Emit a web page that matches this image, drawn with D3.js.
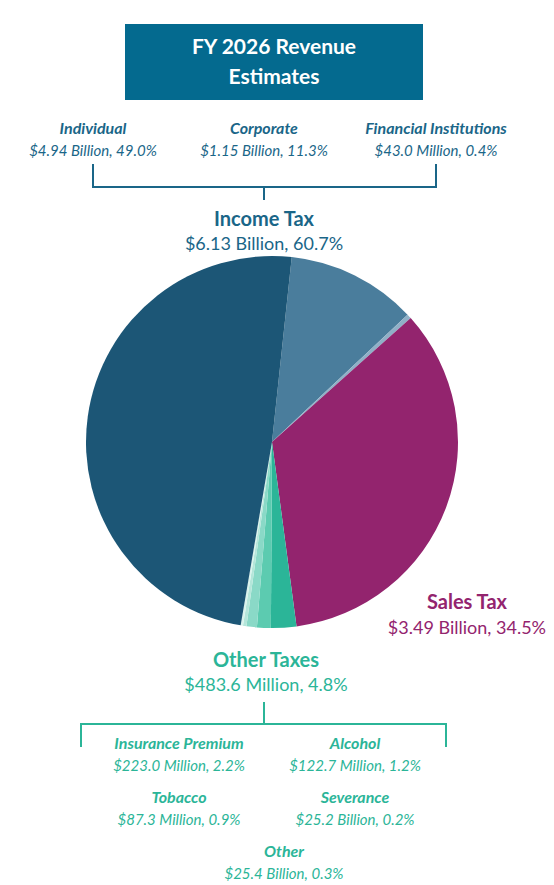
<!DOCTYPE html>
<html><head><meta charset="utf-8">
<script src="https://cdn.jsdelivr.net/npm/d3@7"></script>
<style>body{margin:0;background:#fff}text{font-family:Lato,"Open Sans",sans-serif}</style>
</head><body><div id="chart"></div>
<script>
// slice data, clockwise from the top
var names = ["Corporate","Financial Institutions","Sales Tax","Insurance Premium","Alcohol","Tobacco","Other","Severance","Individual"];
var shares = [11.3, 0.4, 34.5, 2.2, 1.2, 0.9, 0.3, 0.2, 49.0];
var colors = ["#4a7d9c","#8fb0c7","#93246e","#2bb598","#5ccbb0","#8ad9c7","#b4e6da","#d8f3ec","#1c5676"];

var incomeSubs = ["Individual","Corporate","Financial Institutions"];
var incomeSubVals = ["$4.94 Billion, 49.0%","$1.15 Billion, 11.3%","$43.0 Million, 0.4%"];
var otherSubs = ["Insurance Premium","Alcohol","Tobacco","Severance","Other"];
var otherSubVals = ["$223.0 Million, 2.2%","$122.7 Million, 1.2%","$87.3 Million, 0.9%","$25.2 Billion, 0.2%","$25.4 Billion, 0.3%"];

var width = 554, height = 885;
var svg = d3.select("#chart").append("svg").attr("width", width).attr("height", height);

var blue = "#1a6688", magenta = "#93246e", green = "#2bb598";

// title box
svg.append("rect").attr("x",125).attr("y",24).attr("width",298).attr("height",76).attr("fill","#046a8f");
svg.append("text").attr("x",274).attr("y",54).attr("text-anchor","middle").attr("fill","#fff")
  .attr("font-size",21).attr("font-weight",700).text("FY 2026 Revenue");
svg.append("text").attr("x",274).attr("y",84).attr("text-anchor","middle").attr("fill","#fff")
  .attr("font-size",21).attr("font-weight",700).text("Estimates");

// income sub labels
var incX = [93, 264, 436];
incomeSubs.forEach(function(n,i){
  svg.append("text").attr("x",incX[i]).attr("y",134).attr("text-anchor","middle").attr("fill",blue)
    .attr("font-size",16).attr("font-weight",700).attr("font-style","italic").text(n);
  svg.append("text").attr("x",incX[i]).attr("y",156).attr("text-anchor","middle").attr("fill",blue)
    .attr("font-size",15).attr("font-style","italic").text(incomeSubVals[i]);
});
svg.append("path").attr("d","M93,164V187H436V164M264,187V200").attr("fill","none").attr("stroke",blue).attr("stroke-width",2);
svg.append("text").attr("x",264).attr("y",226).attr("text-anchor","middle").attr("fill",blue)
  .attr("font-size",20).attr("font-weight",700).text("Income Tax");
svg.append("text").attr("x",264).attr("y",250).attr("text-anchor","middle").attr("fill",blue)
  .attr("font-size",18).text("$6.13 Billion, 60.7%");

// pie
var cx = 272, cy = 442, r = 186;
var start = 6.1 * Math.PI / 180;
var pie = d3.pie().sort(null).value(function(d){ return d; })
  .startAngle(start).endAngle(start + 2*Math.PI);
var arc = d3.arc().innerRadius(0).outerRadius(r);
svg.append("g").attr("transform","translate("+cx+","+cy+")")
  .selectAll("path").data(pie(shares)).enter().append("path")
  .attr("d", arc).attr("fill", function(d,i){ return colors[i]; });

// sales tax
svg.append("text").attr("x",507).attr("y",609).attr("text-anchor","end").attr("fill",magenta)
  .attr("font-size",20).attr("font-weight",700).text("Sales Tax");
svg.append("text").attr("x",546).attr("y",634).attr("text-anchor","end").attr("fill",magenta)
  .attr("font-size",18).text("$3.49 Billion, 34.5%");

// other taxes
svg.append("text").attr("x",266).attr("y",667).attr("text-anchor","middle").attr("fill",green)
  .attr("font-size",20).attr("font-weight",700).text("Other Taxes");
svg.append("text").attr("x",266).attr("y",691).attr("text-anchor","middle").attr("fill",green)
  .attr("font-size",18).text("$483.6 Million, 4.8%");
svg.append("path").attr("d","M264,702V724M81,747V724H446V747").attr("fill","none").attr("stroke",green).attr("stroke-width",2);

var oX = [179,355,179,355,284], oY = [749,749,803,803,857];
otherSubs.forEach(function(n,i){
  svg.append("text").attr("x",oX[i]).attr("y",oY[i]).attr("text-anchor","middle").attr("fill",green)
    .attr("font-size",16).attr("font-weight",700).attr("font-style","italic").text(n);
  svg.append("text").attr("x",oX[i]).attr("y",oY[i]+22).attr("text-anchor","middle").attr("fill",green)
    .attr("font-size",15).attr("font-style","italic").text(otherSubVals[i]);
});
</script></body></html>
